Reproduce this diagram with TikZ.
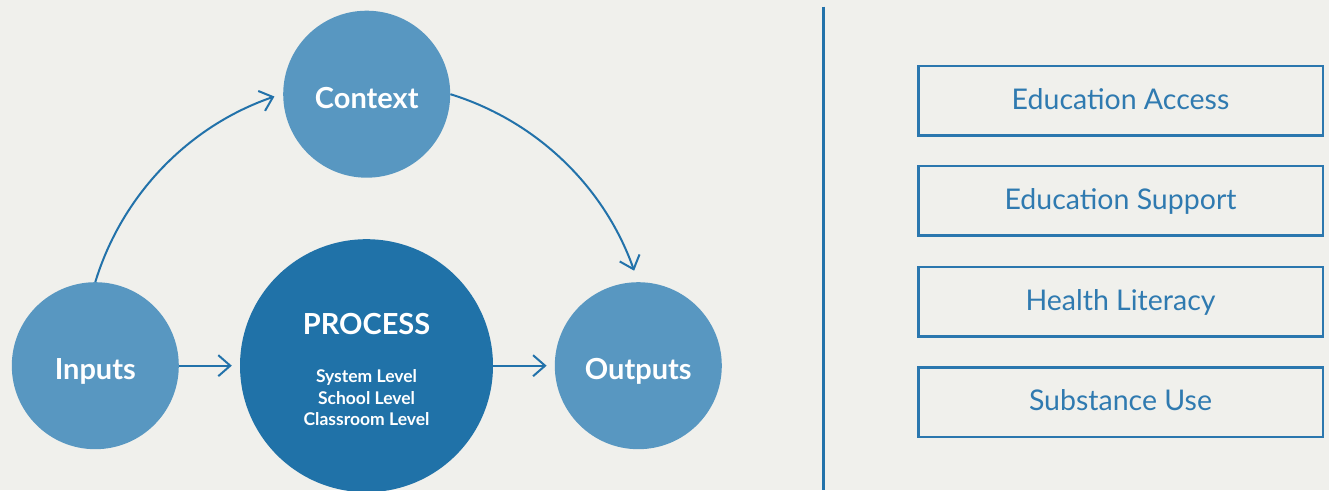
\documentclass[tikz,border=0pt]{standalone}
\usepackage{fontspec}
\setmainfont{Lato}
\usetikzlibrary{arrows.meta}
\definecolor{bgc}{RGB}{240,240,236}
\definecolor{lightc}{RGB}{88,151,193}
\definecolor{darkc}{RGB}{32,114,168}
\definecolor{linec}{RGB}{34,114,170}
\definecolor{boxc}{RGB}{43,119,174}
\definecolor{boxt}{RGB}{47,122,176}
\tikzset{
  bubble/.style={circle, fill=lightc, draw=none, inner sep=0pt, minimum size=167pt,
    text=white, font=\bfseries\fontsize{29}{34}\selectfont, text height=28pt, text depth=0pt},
  bigbubble/.style={circle, fill=darkc, draw=none, inner sep=0pt, minimum size=253pt},
  ptitle/.style={anchor=base, text=white, inner sep=0pt, font=\bfseries\fontsize{29}{34}\selectfont},
  psub/.style={anchor=base, text=white, inner sep=0pt, font=\bfseries\fontsize{17.5}{21}\selectfont},
  arr/.style={draw=linec, line width=2pt, -{Straight Barb[length=12pt,width=21pt]}},
  outbox/.style={draw=boxc, line width=2.5pt, minimum width=404.5pt, minimum height=69.5pt,
    inner sep=0pt, text=boxt, font=\fontsize{28.5}{34}\selectfont, text height=21pt, text depth=3.5pt},
}
\begin{document}
\begin{tikzpicture}[x=1pt,y=1pt]
\fill[bgc] (0,0) rectangle (1329,490);
\useasboundingbox (0,0) rectangle (1329,490);

\node[bubble] (inputs) at (95.3,124.3) {Inputs};
\node[bigbubble] (process) at (366.5,124.3) {};
\node[bubble] (outputs) at (638.3,124.3) {Outputs};
\node[bubble] (context) at (366.7,395.8) {Context};

\node[ptitle] (ptext) at ([yshift=31.4pt]process.center) {PROCESS};
\node[psub] (lvl1) at ([yshift=-16.3pt]process.center) {System Level};
\node[psub] (lvl2) at ([yshift=-38.3pt]process.center) {School Level};
\node[psub] (lvl3) at ([yshift=-59.8pt]process.center) {Classroom Level};

\draw[arr] (inputs.east) -- ([xshift=-8pt]process.west);
\draw[arr] (process.east) -- ([xshift=-8pt]outputs.west);
\draw[arr] (inputs.north) arc[start angle=163, end angle=109, radius=284pt];
\draw[arr] (context.east) arc[start angle=72.8, end angle=19.5, radius=284pt];

\coordinate (divtop) at (823.7,483.3);
\coordinate (divbot) at (823.7,0);
\draw[draw=linec, line width=2.5pt] (divtop) -- (divbot);

\node[outbox] (b1) at (1120.5,389) {Education Access};
\node[outbox] (b2) at (1120.5,289) {Education Support};
\node[outbox] (b3) at (1120.5,188) {Health Literacy};
\node[outbox] (b4) at (1120.5,88) {Substance Use};
\end{tikzpicture}
\end{document}
